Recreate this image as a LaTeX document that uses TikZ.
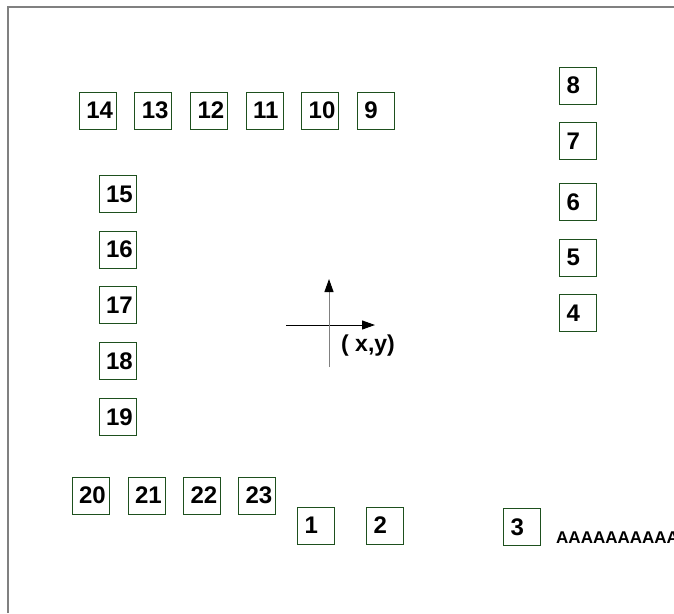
\documentclass[tikz,border=0pt]{standalone}
\usepackage{fontspec}
\setmainfont{Liberation Sans}
\usetikzlibrary{arrows.meta}
\definecolor{boxgreen}{RGB}{30,80,30}
\definecolor{framegray}{RGB}{128,128,128}
\begin{document}
\begin{tikzpicture}[x=1pt,y=-1pt,
  bx/.style={draw=boxgreen, line width=0.9pt, text width=23pt, inner xsep=7pt,
    inner ysep=0pt, minimum height=37pt, align=left,
    font=\fontsize{24}{28}\selectfont\bfseries},
  axis/.style={line width=1pt, -{Triangle[length=13pt,width=9pt,color=black]}},
  lbl/.style={inner sep=0pt, font=\fontsize{23}{27}\selectfont\bfseries}]
\useasboundingbox (0,0) rectangle (674,613);
\clip (0,0) rectangle (674,613);
% frame
\draw[framegray, line width=1.3pt] (8,613) -- (8,7) -- (674,7);
% top row
\node[bx] (n14) at (97.8,110.5) {14};
\node[bx] (n13) at (153.4,110.5) {13};
\node[bx] (n12) at (209,110.5) {12};
\node[bx] (n11) at (264.6,110.5) {11};
\node[bx] (n10) at (320.2,110.5) {10};
\node[bx] (n9) at (375.8,110.5) {9};
% right column
\node[bx] (n8) at (578,85.5) {8};
\node[bx] (n7) at (578,141) {7};
\node[bx] (n6) at (578,202) {6};
\node[bx] (n5) at (578,257.5) {5};
\node[bx] (n4) at (578,313) {4};
% left column
\node[bx] (n15) at (117.5,194) {15};
\node[bx] (n16) at (117.5,249.5) {16};
\node[bx] (n17) at (117.5,305) {17};
\node[bx] (n18) at (117.5,361) {18};
\node[bx] (n19) at (117.5,417) {19};
% bottom row
\node[bx] (n20) at (90.5,495.5) {20};
\node[bx] (n21) at (146.5,495.5) {21};
\node[bx] (n22) at (202,495.5) {22};
\node[bx] (n23) at (257,495.5) {23};
\node[bx] (n1) at (316,525.5) {1};
\node[bx] (n2) at (385,525.5) {2};
\node[bx] (n3) at (522,527) {3};
\node[inner sep=0pt, anchor=base west, font=\fontsize{17}{20}\selectfont\bfseries] (aaa) at (556,543) {AAAAAAAAAA};
% axes
\coordinate (hx0) at (286,325);
\coordinate (hx1) at (375,325);
\coordinate (vy0) at (329,367);
\coordinate (vy1) at (329,279);
\draw[axis, draw=black] (hx0) -- (hx1);
\draw[axis, draw=framegray] (vy0) -- (vy1);
\node[lbl, anchor=west] (xy) at (341,346) {( x,y)};
\end{tikzpicture}
\end{document}
